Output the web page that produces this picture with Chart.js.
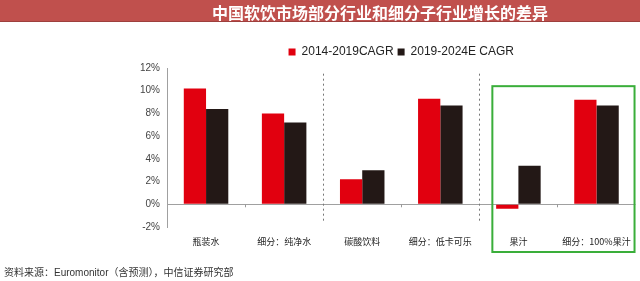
<!DOCTYPE html>
<html>
<head>
<meta charset="utf-8">
<script src="https://cdn.jsdelivr.net/npm/chart.js@4.4.0/dist/chart.umd.min.js"></script>
<style>
  body { margin: 0; background: #fff; }
  #wrap { position: relative; width: 640px; height: 281px; overflow: hidden; }
  #banner {
    position: absolute; left: 0; top: 0; width: 640px; height: 21px;
    background: #c0504d; border-bottom: 1px solid #9e3f3d;
  }
  #banner span {
    position: absolute; left: 120px; width: 520px; top: 0; line-height: 21px;
    text-align: center; color: #fff; font: bold 16px "Noto Sans CJK SC", sans-serif;
  }
  #source {
    position: absolute; left: 4px; top: 264px; color: #333;
    font: 10px "Liberation Sans", "Noto Sans CJK SC", sans-serif;
  }
  canvas { position: absolute; left: 0; top: 0; }
</style>
</head>
<body>
<div id="wrap">
  <canvas id="growthChart" width="640" height="281"></canvas>
  <div id="banner"><span>中国软饮市场部分行业和细分子行业增长的差异</span></div>
  <div id="source">资料来源：Euromonitor（含预测），中信证券研究部</div>
</div>
<script>
const categories = ['瓶装水', '细分：纯净水', '碳酸饮料', '细分：低卡可乐', '果汁', '细分：100%果汁'];
const cagr2014_2019 = [10.2, 8.0, 2.2, 9.3, -0.4, 9.2];
const cagr2019_2024 = [8.4, 7.2, 3.0, 8.7, 3.4, 8.7];
const yTicks = [-2, 0, 2, 4, 6, 8, 10, 12];

// dotted separators, tick marks and the green highlight box
const decorations = {
  id: 'decorations',
  afterDatasetsDraw(chart) {
    const {ctx, chartArea, scales: {x, y}} = chart;
    const zeroY = y.getPixelForValue(0);
    const boundary = i => (x.getPixelForValue(i) + x.getPixelForValue(i + 1)) / 2;
    ctx.save();
    // small ticks on zero line
    ctx.strokeStyle = '#999';
    ctx.lineWidth = 1;
    [0, 2, 4].forEach(i => {
      const bx = Math.round(boundary(i)) + 0.5;
      ctx.beginPath();
      ctx.moveTo(bx, zeroY);
      ctx.lineTo(bx, zeroY + 3);
      ctx.stroke();
    });
    // dotted separators
    ctx.setLineDash([2, 3]);
    ctx.strokeStyle = '#777';
    [1, 3].forEach(i => {
      const bx = Math.round(boundary(i)) + 0.5;
      ctx.beginPath();
      ctx.moveTo(bx, y.getPixelForValue(11.5));
      ctx.lineTo(bx, y.getPixelForValue(-1.5));
      ctx.stroke();
    });
    ctx.setLineDash([]);
    // green box round the juice categories
    const left = boundary(3) + 13;
    const top = y.getPixelForValue(10.4);
    const right = chartArea.right - 1;
    const bottom = chartArea.bottom + 25;
    ctx.strokeStyle = '#3aae3a';
    ctx.lineWidth = 2;
    ctx.strokeRect(left, top, right - left, bottom - top);
    ctx.restore();
  }
};

const ctx = document.getElementById('growthChart').getContext('2d');
new Chart(ctx, {
  type: 'bar',
  data: {
    labels: categories,
    datasets: [{
      label: '2014-2019CAGR',
      data: cagr2014_2019,
      backgroundColor: '#e1000f',
      borderWidth: 0
    }, {
      label: '2019-2024E CAGR',
      data: cagr2019_2024,
      backgroundColor: '#231816',
      borderWidth: 0
    }]
  },
  options: {
    responsive: false,
    devicePixelRatio: 1,
    animation: false,
    layout: { padding: { left: 0, right: 2, top: 42, bottom: 0 } },
    datasets: { bar: { barPercentage: 1, categoryPercentage: 0.57 } },
    plugins: {
      legend: {
        position: 'top',
        fullSize: false,
        labels: {
          boxWidth: 7,
          boxHeight: 7,
          padding: 4,
          color: '#222',
          font: { size: 12, family: '"Liberation Sans", Arial, sans-serif' }
        }
      },
      tooltip: { enabled: false }
    },
    scales: {
      x: {
        grid: { display: false, drawTicks: false },
        border: { display: false },
        ticks: {
          color: '#222',
          padding: 9,
          maxRotation: 0,
          font: { size: 9, family: '"Noto Sans CJK SC", sans-serif' }
        },
        afterFit(scale) { scale.height = 54; }
      },
      y: {
        min: -2,
        max: 12,
        afterBuildTicks(scale) { scale.ticks = yTicks.map(v => ({ value: v })); },
        grid: {
          drawTicks: false,
          color: c => (c.tick && c.tick.value === 0 ? '#a0a0a0' : 'rgba(0,0,0,0)')
        },
        border: { display: true, color: '#a0a0a0' },
        ticks: {
          padding: 7,
          color: '#444',
          font: { size: 10, family: '"Liberation Sans", Arial, sans-serif' },
          callback: v => v + '%'
        },
        afterFit(scale) { scale.width = 167; }
      }
    }
  },
  plugins: [decorations]
});
</script>
</body>
</html>
